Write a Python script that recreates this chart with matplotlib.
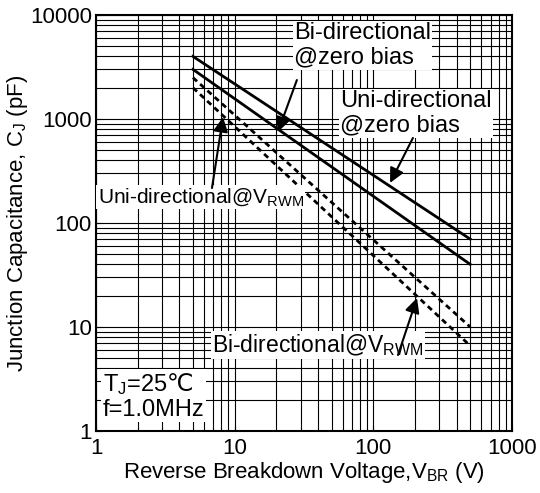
import matplotlib
matplotlib.use('Agg')
import matplotlib.pyplot as plt
import numpy as np

plt.rcParams['font.family'] = ['Liberation Sans', 'DejaVu Sans']
plt.rcParams['mathtext.fontset'] = 'custom'
plt.rcParams['mathtext.rm'] = 'Liberation Sans'
plt.rcParams['mathtext.sf'] = 'DejaVu Sans'

# line end points (V_BR in V, C_J in pF)
vbr = [5, 500]
uni_zero = [4000, 70]
bi_zero = [3000, 40]
uni_vrwm = [2500, 10]
bi_vrwm = [2000, 6.6]

fig = plt.figure(figsize=(5.4, 4.93), dpi=100)
ax = fig.add_axes([96 / 540, 1 - 431 / 493, 416 / 540, 416 / 493])

ax.plot(vbr, uni_zero, color='black', lw=2)
ax.plot(vbr, bi_zero, color='black', lw=2)
ax.plot(vbr, uni_vrwm, color='black', lw=2, ls=(0, (2, 1.5)))
ax.plot(vbr, bi_vrwm, color='black', lw=2, ls=(0, (2, 1.5)))

ax.set_xscale('log')
ax.set_yscale('log')
ax.set_xlim(1, 1000)
ax.set_ylim(1, 10000)
ax.set_xticks([1, 10, 100, 1000])
ax.set_xticklabels(['1', '10', '100', '1000'])
ax.set_yticks([1, 10, 100, 1000, 10000])
ax.set_yticklabels(['1', '10', '100', '1000', '10000'])
ax.grid(True, which='both', color='black', lw=0.8)
ax.tick_params(axis='both', which='both', direction='in', labelsize=16, length=4, color='black')
ax.tick_params(axis='x', pad=5)
ax.tick_params(axis='y', pad=3)
for s in ax.spines.values():
    s.set_linewidth(1.5)

ax.set_xlabel(r'Reverse Breakdown Voltage,V$\mathregular{_{BR}}$ (V)', fontsize=16, labelpad=1)
ax.set_ylabel(r'Junction Capacitance, C$\mathregular{_{J}}$ (pF)', fontsize=16, labelpad=0)

box = dict(facecolor='white', edgecolor='none', pad=1)
arrow = dict(arrowstyle='-|>', color='black', lw=1.5, mutation_scale=22, shrinkA=0, shrinkB=0)

ax.text(26.8, 8570, 'Bi-directional\n@zero bias', fontsize=17, va='top', ha='left',
        bbox=box, linespacing=1.15)
ax.annotate('', xy=(20.5, 750), xytext=(28.1, 2370), arrowprops=arrow)

ax.text(57.5, 1900, 'Uni-directional\n@zero bias', fontsize=17, va='top', ha='left',
        bbox=box, linespacing=1.15)
ax.annotate('', xy=(132, 243), xytext=(193, 657), arrowprops=arrow)

ax.text(1.03, 178, r'Uni-directional@V$\mathregular{_{RWM}}$', fontsize=15, va='center', ha='left',
        bbox=box)
ax.annotate('', xy=(8.24, 1045), xytext=(6.86, 217), arrowprops=arrow)

ax.text(6.86, 6.7, r'Bi-directional@V$\mathregular{_{RWM}}$', fontsize=16.5, va='center', ha='left',
        bbox=box)
ax.annotate('', xy=(206.5, 19), xytext=(150.6, 5.38), arrowprops=arrow)

ax.text(1.12, 1.25, 'T$\\mathregular{_{J}}$=25$\\mathsf{\u2103}$\nf=1.0MHz', fontsize=17, va='bottom', ha='left',
        bbox=box, linespacing=1.1)

fig.savefig('out.png', dpi=100)
